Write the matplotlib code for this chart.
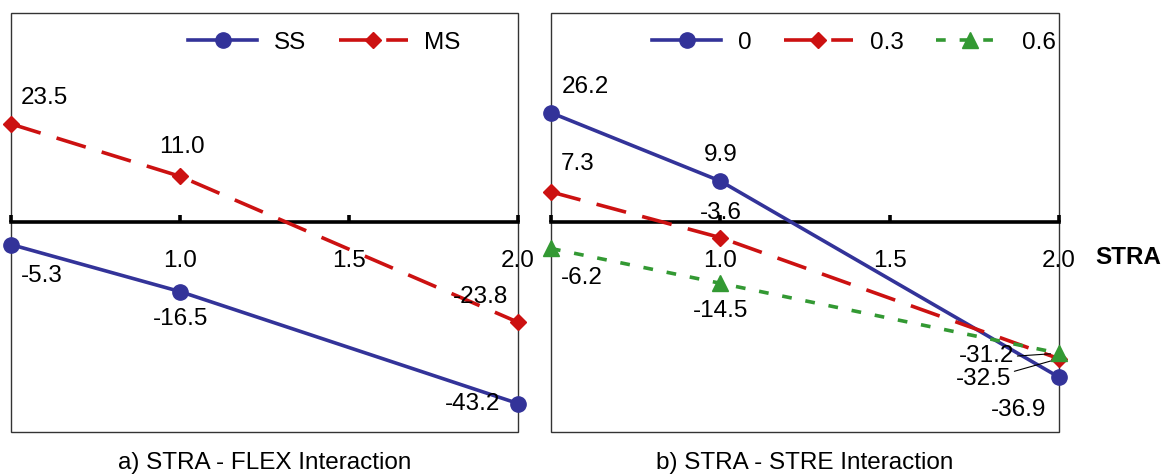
import matplotlib
matplotlib.use('Agg')
import matplotlib.pyplot as plt
from matplotlib.patches import Rectangle

plt.rcParams['font.family'] = ['Liberation Sans', 'DejaVu Sans']
plt.rcParams['lines.scale_dashes'] = False

# STRA levels on the x axis
stra = [0.5, 1.0, 2.0]
tick_vals = [0.5, 1.0, 1.5, 2.0]
tick_labels = ['', '1.0', '1.5', '2.0']

# a) STRA - FLEX interaction
flex_names = ['SS', 'MS']
flex_ss = [-5.3, -16.5, -43.2]
flex_ms = [23.5, 11.0, -23.8]

# b) STRA - STRE interaction
stre_names = ['0', '0.3', '0.6']
stre_0 = [26.2, 9.9, -36.9]
stre_03 = [7.3, -3.6, -32.5]
stre_06 = [-6.2, -14.5, -31.2]

BLUE = '#333399'
RED = '#CC1111'
GREEN = '#339933'
FS = 17.5

styles = {
    'solid': dict(color=BLUE, marker='o', ms=11, linestyle='-'),
    'dash': dict(color=RED, marker='D', ms=8.5, dashes=(22, 12)),
    'dot': dict(color=GREEN, marker='^', ms=12, dashes=(7, 10)),
}

# label offsets in pixels (dx, dy with dy pointing down)
flex_offsets = [
    [(30, 31), (0, 27), (-45, 0)],
    [(33, -26), (2, -29), (-38, -25)],
]
stre_offsets = [
    [(34, -26), (0, -26), (-40, 33)],
    [(27, -28), (1, -25), (-75, 20)],
    [(31, 30), (0, 28), (-72, 3)],
]
leaders = {(1, 2): (1, 0.8), (2, 2): (1, 0.5)}


def setup_axes(ax):
    ax.set_xlim(0.5, 2.0)
    ax.set_ylim(-50, 50)
    ax.set_yticks([])
    for s in ['left', 'right', 'top']:
        ax.spines[s].set_visible(False)
    ax.spines['bottom'].set_position(('data', 0))
    ax.spines['bottom'].set_linewidth(2.6)
    ax.spines['bottom'].set_color('black')
    ax.spines['bottom'].set_zorder(1)
    ax.set_xticks(tick_vals)
    ax.set_xticklabels(tick_labels)
    ax.tick_params(axis='x', direction='in', length=5, width=2.6,
                   pad=20, labelsize=FS)
    ax.add_patch(Rectangle((0, 0), 1, 1, transform=ax.transAxes, fill=False,
                           ec='#333333', lw=1.0, clip_on=False, zorder=0.5))


def draw_series(ax, series, names, kinds, offsets, panel):
    for i, (vals, name, kind) in enumerate(zip(series, names, kinds)):
        st = styles[kind]
        ax.plot(stra, vals, lw=2.6, mec=st['color'], label=name,
                clip_on=False, zorder=3, **st)
        for j, (x, v) in enumerate(zip(stra, vals)):
            dx, dy = offsets[i][j]
            kw = {}
            if (i, j) in leaders and panel == 'b':
                kw['arrowprops'] = dict(arrowstyle='-', lw=0.8, color='black',
                                        relpos=leaders[(i, j)],
                                        shrinkA=0, shrinkB=6)
            ax.annotate(f'{v:.1f}', (x, v), xytext=(dx, -dy),
                        textcoords='offset pixels', ha='center', va='center',
                        fontsize=FS, zorder=4, **kw)


fig = plt.figure(figsize=(11.68, 4.74), dpi=100)
ax1 = fig.add_axes([0.0098, 0.0886, 0.4337, 0.884])
ax2 = fig.add_axes([0.4717, 0.0886, 0.4349, 0.884])

for ax in (ax1, ax2):
    setup_axes(ax)

draw_series(ax1, [flex_ss, flex_ms], flex_names, ['solid', 'dash'],
            flex_offsets, 'a')
draw_series(ax2, [stre_0, stre_03, stre_06], stre_names,
            ['solid', 'dash', 'dot'], stre_offsets, 'b')

leg_kw = dict(loc='center', ncol=3, frameon=False, fontsize=FS,
              handlelength=2.85, handletextpad=0.68, columnspacing=1.33,
              numpoints=1)
ax1.legend(bbox_to_anchor=(0.618, 0.929), **leg_kw)
ax2.legend(bbox_to_anchor=(0.596, 0.929), **leg_kw)

ax1.text(0.5, -0.073, 'a) STRA - FLEX Interaction', transform=ax1.transAxes,
         ha='center', va='center', fontsize=FS)
ax2.text(0.5, -0.073, 'b) STRA - STRE Interaction', transform=ax2.transAxes,
         ha='center', va='center', fontsize=FS)
fig.text(1128 / 1168, 1 - 257 / 474, 'STRA', ha='center', va='center',
         fontsize=FS, fontweight='bold')

fig.savefig('out.png', dpi=100)
